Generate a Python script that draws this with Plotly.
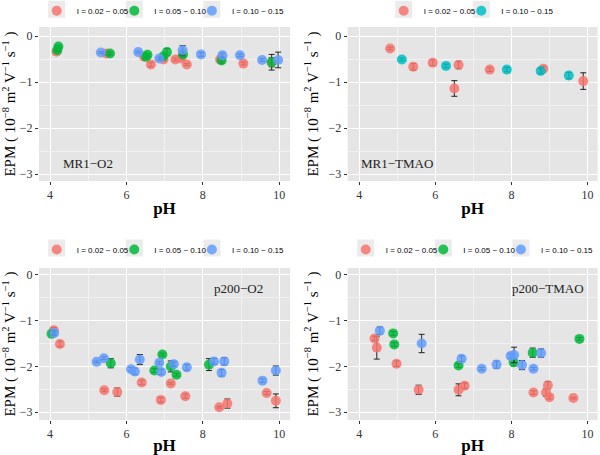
import plotly.graph_objects as go

RED, GREEN, BLUE, CYAN = "#F8766D", "#00BA38", "#619CFF", "#00BFC4"
LBL1, LBL2, LBL3 = "I = 0.02 ~ 0.05", "I = 0.05 ~ 0.10", "I = 0.10 ~ 0.15"

# Panel 1: MR1-O2
p1_red_ph = [4.17, 5.47, 6.46, 6.64, 6.97, 7.28, 7.43, 7.58, 8.45, 9.06, 9.80]
p1_red_epm = [-0.34, -0.38, -0.45, -0.62, -0.51, -0.51, -0.49, -0.62, -0.51, -0.60, -0.57]
p1_red_err = [0.03, 0.04, 0.03, 0.05, 0.03, 0.03, 0.03, 0.02, 0.04, 0.03, 0.10]
p1_grn_ph = [4.19, 4.22, 5.57, 6.51, 6.55, 6.97, 7.06, 7.48, 8.49, 9.80]
p1_grn_epm = [-0.31, -0.23, -0.38, -0.45, -0.41, -0.44, -0.35, -0.40, -0.53, -0.57]
p1_grn_err = [0.03, 0.03, 0.03, 0.04, 0.03, 0.04, 0.08, 0.05, 0.06, 0.17]
p1_blu_ph = [5.33, 6.31, 6.86, 7.47, 7.95, 8.51, 8.97, 9.55, 9.97]
p1_blu_epm = [-0.36, -0.35, -0.49, -0.31, -0.40, -0.42, -0.42, -0.52, -0.52]
p1_blu_err = [0.02, 0.02, 0.03, 0.10, 0.04, 0.05, 0.03, 0.03, 0.17]

# Panel 2: MR1-TMAO
p2_red_ph = [4.81, 5.42, 5.93, 6.50, 6.61, 7.43, 8.84, 9.89]
p2_red_epm = [-0.27, -0.67, -0.58, -1.14, -0.63, -0.73, -0.71, -0.98]
p2_red_err = [0.03, 0.07, 0.06, 0.17, 0.08, 0.04, 0.05, 0.18]
p2_cyn_ph = [5.12, 6.28, 7.88, 8.77, 9.51]
p2_cyn_epm = [-0.51, -0.65, -0.73, -0.76, -0.86]
p2_cyn_err = [0.03, 0.04, 0.05, 0.06, 0.07]

# Panel 3: p200-O2
p3_red_ph = [4.10, 4.26, 5.42, 5.76, 6.40, 6.90, 7.16, 7.54, 8.43, 8.64, 9.67, 9.91]
p3_red_epm = [-1.21, -1.51, -2.52, -2.56, -2.35, -2.73, -2.37, -2.65, -2.89, -2.81, -2.58, -2.75]
p3_red_err = [0.06, 0.06, 0.03, 0.09, 0.05, 0.05, 0.02, 0.05, 0.02, 0.10, 0.03, 0.15]
p3_grn_ph = [4.04, 5.59, 6.73, 6.94, 7.16, 7.31, 8.16]
p3_grn_epm = [-1.29, -1.93, -2.09, -1.74, -2.00, -2.18, -1.96]
p3_grn_err = [0.02, 0.10, 0.04, 0.03, 0.12, 0.03, 0.13]
p3_blu_ph = [4.11, 5.22, 5.41, 6.12, 6.22, 6.35, 6.86, 6.91, 7.24, 7.58, 8.29, 8.49, 8.56, 9.56, 9.91]
p3_blu_epm = [-1.27, -1.90, -1.82, -2.06, -2.11, -1.85, -1.92, -2.12, -1.95, -2.02, -1.89, -2.14, -1.89, -2.31, -2.09]
p3_blu_err = [0.05, 0.02, 0.03, 0.04, 0.07, 0.11, 0.03, 0.06, 0.05, 0.06, 0.06, 0.07, 0.08, 0.04, 0.10]

# Panel 4: p200-TMAO
p4_red_ph = [4.40, 4.46, 4.98, 5.56, 6.61, 6.77, 8.58, 8.91, 8.96, 9.00, 9.63]
p4_red_epm = [-1.39, -1.59, -1.94, -2.51, -2.51, -2.42, -2.57, -2.57, -2.41, -2.67, -2.69]
p4_red_err = [0.05, 0.25, 0.06, 0.10, 0.13, 0.06, 0.04, 0.08, 0.08, 0.04, 0.02]
p4_grn_ph = [4.89, 4.92, 6.61, 8.06, 8.56, 9.79]
p4_grn_epm = [-1.28, -1.52, -1.98, -1.91, -1.70, -1.40]
p4_grn_err = [0.04, 0.04, 0.04, 0.08, 0.10, 0.03]
p4_blu_ph = [4.54, 5.64, 6.69, 7.22, 7.61, 7.98, 8.07, 8.28, 8.58, 8.78]
p4_blu_epm = [-1.22, -1.50, -1.83, -2.05, -1.96, -1.77, -1.75, -1.97, -2.05, -1.71]
p4_blu_err = [0.08, 0.20, 0.06, 0.03, 0.08, 0.05, 0.17, 0.10, 0.03, 0.09]

panel_labels = ["MR1\u2212O2", "MR1\u2212TMAO", "p200\u2212O2", "p200\u2212TMAO"]
label_pos = [(5.0, -2.77), (4.98, -2.77), (8.93, -0.29), (8.97, -0.31)]

panels = [
    [(p1_red_ph, p1_red_epm, p1_red_err, RED, LBL1),
     (p1_grn_ph, p1_grn_epm, p1_grn_err, GREEN, LBL2),
     (p1_blu_ph, p1_blu_epm, p1_blu_err, BLUE, LBL3)],
    [(p2_red_ph, p2_red_epm, p2_red_err, RED, LBL1),
     (p2_cyn_ph, p2_cyn_epm, p2_cyn_err, CYAN, LBL3)],
    [(p3_red_ph, p3_red_epm, p3_red_err, RED, LBL1),
     (p3_grn_ph, p3_grn_epm, p3_grn_err, GREEN, LBL2),
     (p3_blu_ph, p3_blu_epm, p3_blu_err, BLUE, LBL3)],
    [(p4_red_ph, p4_red_epm, p4_red_err, RED, LBL1),
     (p4_grn_ph, p4_grn_epm, p4_grn_err, GREEN, LBL2),
     (p4_blu_ph, p4_blu_epm, p4_blu_err, BLUE, LBL3)],
]

W, H = 600, 455
boxes = [(39, 290, 27, 181), (347.7, 597.7, 27, 181), (39, 290, 268, 420), (347.7, 597.7, 268, 420)]
xranges = [(3.712, 10.28), (3.695, 10.27), (3.712, 10.28), (3.695, 10.27)]
yranges = [(-3.152, 0.196), (-3.152, 0.196), (-3.168, 0.146), (-3.168, 0.146)]
legend_xy = [(61.7, 9.3), (408.7, 9.3), (61.7, 248), (370.7, 248)]
STEP = 77.6

fig = go.Figure()
SERIF = "Liberation Serif, Times New Roman, serif"

leg_n = 0
for i, groups in enumerate(panels):
    ax = "" if i == 0 else str(i + 1)
    lx, ly = legend_xy[i]
    for k, (ph, epm, err, col, name) in enumerate(groups):
        leg_n += 1
        lg = "legend" if leg_n == 1 else "legend" + str(leg_n)
        fig.add_trace(go.Scatter(
            x=ph, y=epm, mode="markers", name=name,
            xaxis="x" + ax, yaxis="y" + ax, legend=lg,
            marker=dict(color=col, size=10, opacity=0.85, line=dict(width=0)),
            error_y=dict(type="data", array=err, visible=True, color="#222222", thickness=1, width=3),
        ))
        cx = lx + k * STEP - 5
        fig.layout[lg] = dict(
            orientation="h", x=(cx - 20) / W, y=1 - (ly - 13) / H, xanchor="left", yanchor="top",
            bgcolor="rgba(0,0,0,0)", borderwidth=0,
            font=dict(family="Liberation Sans, Arial, sans-serif", size=8, color="#000000"),
            itemclick=False, itemdoubleclick=False,
        )
        fig.add_shape(type="rect", xref="paper", yref="paper",
                      x0=(cx - 8.5) / W, x1=(cx + 8.5) / W,
                      y0=1 - (ly + 8.5) / H, y1=1 - (ly - 8.5) / H,
                      fillcolor="#EBEBEB", line=dict(width=0), layer="below")
    l, r, t, b = boxes[i]
    fig.layout["xaxis" + ax] = dict(
        domain=[l / W, r / W], anchor="y" + ax, range=list(xranges[i]), automargin=False,
        tickvals=[4, 6, 8, 10], showgrid=True, gridcolor="white", gridwidth=1.1,
        minor=dict(tickvals=[5, 7, 9], showgrid=True, gridcolor="#F2F2F2", gridwidth=0.6, ticks=""),
        zeroline=False, showline=False, ticks="outside", ticklen=3, tickcolor="#333333",
        tickfont=dict(family=SERIF, size=12, color="#333333"),
        title=dict(text="<b>pH</b>", font=dict(family=SERIF, size=17, color="black"), standoff=0),
    )
    fig.layout["yaxis" + ax] = dict(
        domain=[1 - b / H, 1 - t / H], anchor="x" + ax, range=list(yranges[i]), automargin=False,
        tickvals=[0, -1, -2, -3], ticktext=["0", "\u22121", "\u22122", "\u22123"],
        showgrid=True, gridcolor="white", gridwidth=1.1,
        minor=dict(tickvals=[-0.5, -1.5, -2.5], showgrid=True, gridcolor="#F2F2F2", gridwidth=0.6, ticks=""),
        zeroline=False, showline=False, ticks="outside", ticklen=3, tickcolor="#333333",
        tickfont=dict(family=SERIF, size=12, color="#333333"),
        title=dict(text="EPM ( 10<sup>\u22128</sup> m<sup>2</sup> V<sup>\u22121</sup> s<sup>\u22121</sup> )",
                   font=dict(family=SERIF, size=15, color="black"), standoff=6),
    )
    fig.add_annotation(x=label_pos[i][0], y=label_pos[i][1], xref="x" + ax, yref="y" + ax,
                       text=panel_labels[i], showarrow=False,
                       font=dict(family=SERIF, size=13, color="#222222"))

fig.update_layout(
    width=W, height=H, margin=dict(l=0, r=0, t=0, b=0, autoexpand=False),
    paper_bgcolor="white", plot_bgcolor="#E5E5E5", showlegend=True,
)
fig.write_html("out.html", config={"displayModeBar": False},
               post_script="document.body.style.margin='0';document.body.style.overflow='hidden';")
